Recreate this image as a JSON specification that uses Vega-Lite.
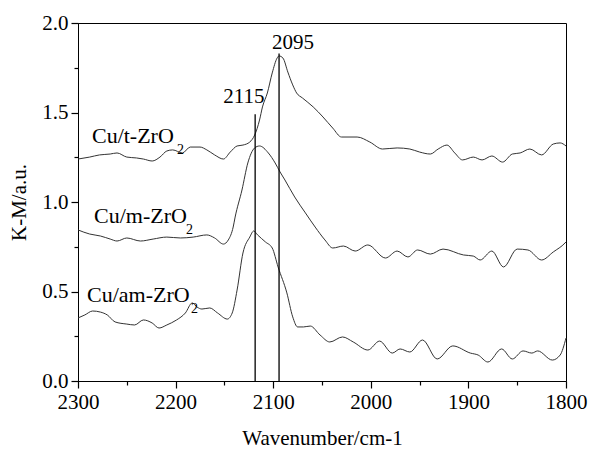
{
  "$schema": "https://vega.github.io/schema/vega-lite/v6.json",
  "autosize": "none",
  "padding": {"left": 78, "top": 23, "right": 24, "bottom": 69},
  "width": 488,
  "height": 358,
  "background": "white",
  "config": {
    "view": {"stroke": "black", "strokeWidth": 1},
    "font": "Liberation Serif",
    "axis": {
      "grid": false,
      "domainColor": "black",
      "domainWidth": 1,
      "tickColor": "black",
      "tickWidth": 1,
      "labelFont": "Liberation Serif",
      "labelFontSize": 21,
      "labelColor": "black",
      "titleFont": "Liberation Serif",
      "titleFontSize": 21,
      "titleFontWeight": "normal",
      "titleColor": "black",
      "labelOverlap": false,
      "labelFlush": false
    }
  },
  "datasets": {
    "spectra": [
      {"series": "Cu/t-ZrO2", "wn": 2300, "km": 1.240},
      {"series": "Cu/t-ZrO2", "wn": 2288, "km": 1.251},
      {"series": "Cu/t-ZrO2", "wn": 2278, "km": 1.263},
      {"series": "Cu/t-ZrO2", "wn": 2267, "km": 1.268},
      {"series": "Cu/t-ZrO2", "wn": 2260, "km": 1.274},
      {"series": "Cu/t-ZrO2", "wn": 2250, "km": 1.251},
      {"series": "Cu/t-ZrO2", "wn": 2240, "km": 1.246},
      {"series": "Cu/t-ZrO2", "wn": 2233, "km": 1.240},
      {"series": "Cu/t-ZrO2", "wn": 2224, "km": 1.229},
      {"series": "Cu/t-ZrO2", "wn": 2216, "km": 1.251},
      {"series": "Cu/t-ZrO2", "wn": 2209, "km": 1.285},
      {"series": "Cu/t-ZrO2", "wn": 2203, "km": 1.291},
      {"series": "Cu/t-ZrO2", "wn": 2193, "km": 1.274},
      {"series": "Cu/t-ZrO2", "wn": 2185, "km": 1.307},
      {"series": "Cu/t-ZrO2", "wn": 2175, "km": 1.307},
      {"series": "Cu/t-ZrO2", "wn": 2168, "km": 1.291},
      {"series": "Cu/t-ZrO2", "wn": 2160, "km": 1.263},
      {"series": "Cu/t-ZrO2", "wn": 2151, "km": 1.240},
      {"series": "Cu/t-ZrO2", "wn": 2144, "km": 1.279},
      {"series": "Cu/t-ZrO2", "wn": 2137, "km": 1.313},
      {"series": "Cu/t-ZrO2", "wn": 2131, "km": 1.318},
      {"series": "Cu/t-ZrO2", "wn": 2124, "km": 1.335},
      {"series": "Cu/t-ZrO2", "wn": 2119, "km": 1.374},
      {"series": "Cu/t-ZrO2", "wn": 2114, "km": 1.458},
      {"series": "Cu/t-ZrO2", "wn": 2111, "km": 1.531},
      {"series": "Cu/t-ZrO2", "wn": 2106, "km": 1.609},
      {"series": "Cu/t-ZrO2", "wn": 2101, "km": 1.721},
      {"series": "Cu/t-ZrO2", "wn": 2096, "km": 1.804},
      {"series": "Cu/t-ZrO2", "wn": 2094, "km": 1.816},
      {"series": "Cu/t-ZrO2", "wn": 2090, "km": 1.804},
      {"series": "Cu/t-ZrO2", "wn": 2085, "km": 1.726},
      {"series": "Cu/t-ZrO2", "wn": 2080, "km": 1.654},
      {"series": "Cu/t-ZrO2", "wn": 2076, "km": 1.609},
      {"series": "Cu/t-ZrO2", "wn": 2070, "km": 1.581},
      {"series": "Cu/t-ZrO2", "wn": 2059, "km": 1.531},
      {"series": "Cu/t-ZrO2", "wn": 2049, "km": 1.475},
      {"series": "Cu/t-ZrO2", "wn": 2039, "km": 1.413},
      {"series": "Cu/t-ZrO2", "wn": 2030, "km": 1.363},
      {"series": "Cu/t-ZrO2", "wn": 2014, "km": 1.363},
      {"series": "Cu/t-ZrO2", "wn": 2001, "km": 1.335},
      {"series": "Cu/t-ZrO2", "wn": 1988, "km": 1.296},
      {"series": "Cu/t-ZrO2", "wn": 1973, "km": 1.302},
      {"series": "Cu/t-ZrO2", "wn": 1960, "km": 1.296},
      {"series": "Cu/t-ZrO2", "wn": 1950, "km": 1.279},
      {"series": "Cu/t-ZrO2", "wn": 1939, "km": 1.268},
      {"series": "Cu/t-ZrO2", "wn": 1931, "km": 1.296},
      {"series": "Cu/t-ZrO2", "wn": 1922, "km": 1.318},
      {"series": "Cu/t-ZrO2", "wn": 1914, "km": 1.274},
      {"series": "Cu/t-ZrO2", "wn": 1906, "km": 1.235},
      {"series": "Cu/t-ZrO2", "wn": 1895, "km": 1.251},
      {"series": "Cu/t-ZrO2", "wn": 1886, "km": 1.235},
      {"series": "Cu/t-ZrO2", "wn": 1876, "km": 1.257},
      {"series": "Cu/t-ZrO2", "wn": 1865, "km": 1.223},
      {"series": "Cu/t-ZrO2", "wn": 1855, "km": 1.268},
      {"series": "Cu/t-ZrO2", "wn": 1847, "km": 1.274},
      {"series": "Cu/t-ZrO2", "wn": 1837, "km": 1.296},
      {"series": "Cu/t-ZrO2", "wn": 1825, "km": 1.263},
      {"series": "Cu/t-ZrO2", "wn": 1813, "km": 1.324},
      {"series": "Cu/t-ZrO2", "wn": 1806, "km": 1.330},
      {"series": "Cu/t-ZrO2", "wn": 1800, "km": 1.313},

      {"series": "Cu/m-ZrO2", "wn": 2300, "km": 0.844},
      {"series": "Cu/m-ZrO2", "wn": 2288, "km": 0.821},
      {"series": "Cu/m-ZrO2", "wn": 2277, "km": 0.810},
      {"series": "Cu/m-ZrO2", "wn": 2267, "km": 0.793},
      {"series": "Cu/m-ZrO2", "wn": 2260, "km": 0.782},
      {"series": "Cu/m-ZrO2", "wn": 2250, "km": 0.799},
      {"series": "Cu/m-ZrO2", "wn": 2236, "km": 0.782},
      {"series": "Cu/m-ZrO2", "wn": 2223, "km": 0.793},
      {"series": "Cu/m-ZrO2", "wn": 2209, "km": 0.804},
      {"series": "Cu/m-ZrO2", "wn": 2195, "km": 0.799},
      {"series": "Cu/m-ZrO2", "wn": 2182, "km": 0.804},
      {"series": "Cu/m-ZrO2", "wn": 2168, "km": 0.816},
      {"series": "Cu/m-ZrO2", "wn": 2160, "km": 0.799},
      {"series": "Cu/m-ZrO2", "wn": 2151, "km": 0.765},
      {"series": "Cu/m-ZrO2", "wn": 2146, "km": 0.788},
      {"series": "Cu/m-ZrO2", "wn": 2141, "km": 0.860},
      {"series": "Cu/m-ZrO2", "wn": 2139, "km": 0.916},
      {"series": "Cu/m-ZrO2", "wn": 2132, "km": 1.067},
      {"series": "Cu/m-ZrO2", "wn": 2126, "km": 1.218},
      {"series": "Cu/m-ZrO2", "wn": 2119, "km": 1.302},
      {"series": "Cu/m-ZrO2", "wn": 2114, "km": 1.313},
      {"series": "Cu/m-ZrO2", "wn": 2105, "km": 1.274},
      {"series": "Cu/m-ZrO2", "wn": 2098, "km": 1.218},
      {"series": "Cu/m-ZrO2", "wn": 2093, "km": 1.168},
      {"series": "Cu/m-ZrO2", "wn": 2088, "km": 1.123},
      {"series": "Cu/m-ZrO2", "wn": 2078, "km": 1.028},
      {"series": "Cu/m-ZrO2", "wn": 2067, "km": 0.939},
      {"series": "Cu/m-ZrO2", "wn": 2057, "km": 0.860},
      {"series": "Cu/m-ZrO2", "wn": 2047, "km": 0.788},
      {"series": "Cu/m-ZrO2", "wn": 2039, "km": 0.743},
      {"series": "Cu/m-ZrO2", "wn": 2028, "km": 0.754},
      {"series": "Cu/m-ZrO2", "wn": 2016, "km": 0.726},
      {"series": "Cu/m-ZrO2", "wn": 2003, "km": 0.760},
      {"series": "Cu/m-ZrO2", "wn": 1985, "km": 0.687},
      {"series": "Cu/m-ZrO2", "wn": 1973, "km": 0.726},
      {"series": "Cu/m-ZrO2", "wn": 1962, "km": 0.693},
      {"series": "Cu/m-ZrO2", "wn": 1952, "km": 0.732},
      {"series": "Cu/m-ZrO2", "wn": 1939, "km": 0.709},
      {"series": "Cu/m-ZrO2", "wn": 1926, "km": 0.737},
      {"series": "Cu/m-ZrO2", "wn": 1905, "km": 0.704},
      {"series": "Cu/m-ZrO2", "wn": 1895, "km": 0.698},
      {"series": "Cu/m-ZrO2", "wn": 1888, "km": 0.676},
      {"series": "Cu/m-ZrO2", "wn": 1876, "km": 0.726},
      {"series": "Cu/m-ZrO2", "wn": 1864, "km": 0.637},
      {"series": "Cu/m-ZrO2", "wn": 1850, "km": 0.737},
      {"series": "Cu/m-ZrO2", "wn": 1839, "km": 0.732},
      {"series": "Cu/m-ZrO2", "wn": 1825, "km": 0.676},
      {"series": "Cu/m-ZrO2", "wn": 1813, "km": 0.721},
      {"series": "Cu/m-ZrO2", "wn": 1801, "km": 0.771},
      {"series": "Cu/m-ZrO2", "wn": 1800, "km": 0.777},

      {"series": "Cu/am-ZrO2", "wn": 2300, "km": 0.352},
      {"series": "Cu/am-ZrO2", "wn": 2293, "km": 0.369},
      {"series": "Cu/am-ZrO2", "wn": 2285, "km": 0.391},
      {"series": "Cu/am-ZrO2", "wn": 2277, "km": 0.385},
      {"series": "Cu/am-ZrO2", "wn": 2270, "km": 0.369},
      {"series": "Cu/am-ZrO2", "wn": 2262, "km": 0.330},
      {"series": "Cu/am-ZrO2", "wn": 2250, "km": 0.318},
      {"series": "Cu/am-ZrO2", "wn": 2242, "km": 0.313},
      {"series": "Cu/am-ZrO2", "wn": 2233, "km": 0.341},
      {"series": "Cu/am-ZrO2", "wn": 2224, "km": 0.324},
      {"series": "Cu/am-ZrO2", "wn": 2217, "km": 0.296},
      {"series": "Cu/am-ZrO2", "wn": 2209, "km": 0.313},
      {"series": "Cu/am-ZrO2", "wn": 2199, "km": 0.341},
      {"series": "Cu/am-ZrO2", "wn": 2190, "km": 0.380},
      {"series": "Cu/am-ZrO2", "wn": 2183, "km": 0.436},
      {"series": "Cu/am-ZrO2", "wn": 2178, "km": 0.413},
      {"series": "Cu/am-ZrO2", "wn": 2173, "km": 0.402},
      {"series": "Cu/am-ZrO2", "wn": 2165, "km": 0.408},
      {"series": "Cu/am-ZrO2", "wn": 2157, "km": 0.380},
      {"series": "Cu/am-ZrO2", "wn": 2147, "km": 0.346},
      {"series": "Cu/am-ZrO2", "wn": 2142, "km": 0.380},
      {"series": "Cu/am-ZrO2", "wn": 2137, "km": 0.508},
      {"series": "Cu/am-ZrO2", "wn": 2131, "km": 0.715},
      {"series": "Cu/am-ZrO2", "wn": 2124, "km": 0.804},
      {"series": "Cu/am-ZrO2", "wn": 2120, "km": 0.838},
      {"series": "Cu/am-ZrO2", "wn": 2116, "km": 0.816},
      {"series": "Cu/am-ZrO2", "wn": 2108, "km": 0.777},
      {"series": "Cu/am-ZrO2", "wn": 2101, "km": 0.743},
      {"series": "Cu/am-ZrO2", "wn": 2095, "km": 0.637},
      {"series": "Cu/am-ZrO2", "wn": 2086, "km": 0.492},
      {"series": "Cu/am-ZrO2", "wn": 2080, "km": 0.358},
      {"series": "Cu/am-ZrO2", "wn": 2075, "km": 0.302},
      {"series": "Cu/am-ZrO2", "wn": 2069, "km": 0.302},
      {"series": "Cu/am-ZrO2", "wn": 2062, "km": 0.307},
      {"series": "Cu/am-ZrO2", "wn": 2052, "km": 0.257},
      {"series": "Cu/am-ZrO2", "wn": 2042, "km": 0.218},
      {"series": "Cu/am-ZrO2", "wn": 2029, "km": 0.246},
      {"series": "Cu/am-ZrO2", "wn": 2018, "km": 0.218},
      {"series": "Cu/am-ZrO2", "wn": 2003, "km": 0.173},
      {"series": "Cu/am-ZrO2", "wn": 1991, "km": 0.223},
      {"series": "Cu/am-ZrO2", "wn": 1978, "km": 0.156},
      {"series": "Cu/am-ZrO2", "wn": 1970, "km": 0.179},
      {"series": "Cu/am-ZrO2", "wn": 1960, "km": 0.162},
      {"series": "Cu/am-ZrO2", "wn": 1947, "km": 0.229},
      {"series": "Cu/am-ZrO2", "wn": 1932, "km": 0.123},
      {"series": "Cu/am-ZrO2", "wn": 1916, "km": 0.196},
      {"series": "Cu/am-ZrO2", "wn": 1898, "km": 0.156},
      {"series": "Cu/am-ZrO2", "wn": 1890, "km": 0.145},
      {"series": "Cu/am-ZrO2", "wn": 1880, "km": 0.106},
      {"series": "Cu/am-ZrO2", "wn": 1866, "km": 0.179},
      {"series": "Cu/am-ZrO2", "wn": 1855, "km": 0.123},
      {"series": "Cu/am-ZrO2", "wn": 1844, "km": 0.168},
      {"series": "Cu/am-ZrO2", "wn": 1835, "km": 0.156},
      {"series": "Cu/am-ZrO2", "wn": 1829, "km": 0.168},
      {"series": "Cu/am-ZrO2", "wn": 1814, "km": 0.117},
      {"series": "Cu/am-ZrO2", "wn": 1806, "km": 0.145},
      {"series": "Cu/am-ZrO2", "wn": 1800, "km": 0.240}
    ],
    "markers": [
      {"label": "2115", "wn": 2118.5, "bottom": 0, "top": 1.49, "labelWn": 2130, "labelKm": 1.553},
      {"label": "2095", "wn": 2094, "bottom": 0, "top": 1.83, "labelWn": 2079.7, "labelKm": 1.855}
    ],
    "names": [
      {"name": "Cu/t-ZrO", "sub": "2", "wn": 2285.7, "km": 1.330, "subWn": 2198.6},
      {"name": "Cu/m-ZrO", "sub": "2", "wn": 2283.6, "km": 0.883, "subWn": 2189.3},
      {"name": "Cu/am-ZrO", "sub": "2", "wn": 2290.8, "km": 0.441, "subWn": 2184.2}
    ]
  },
  "resolve": {"axis": {"x": "independent", "y": "independent"}},
  "layer": [
    {
      "data": {"name": "spectra"},
      "mark": {"type": "line", "color": "#333333", "strokeWidth": 1, "interpolate": "monotone"},
      "encoding": {
        "x": {
          "field": "wn",
          "type": "quantitative",
          "title": "Wavenumber/cm-1",
          "scale": {"domain": [1800, 2300], "reverse": true, "nice": false, "zero": false},
          "axis": {
            "orient": "bottom",
            "values": [2300, 2200, 2100, 2000, 1900, 1800],
            "format": "d",
            "ticks": false,
            "labelPadding": 10,
            "titlePadding": 15
          }
        },
        "y": {
          "field": "km",
          "type": "quantitative",
          "title": "K-M/a.u.",
          "scale": {"domain": [0, 2], "nice": false, "zero": false},
          "axis": {
            "orient": "left",
            "values": [0, 0.5, 1, 1.5, 2],
            "format": ".1f",
            "ticks": false,
            "labelPadding": 10,
            "titlePadding": 12
          }
        },
        "detail": {"field": "series", "type": "nominal"}
      }
    },
    {
      "data": {"name": "markers"},
      "mark": {"type": "rule", "color": "black", "strokeWidth": 1.3},
      "encoding": {
        "x": {
          "field": "wn",
          "type": "quantitative",
          "axis": {"orient": "bottom", "values": [2300, 2200, 2100, 2000, 1900, 1800], "labels": false, "tickSize": 7, "tickColor": "black", "tickWidth": 1.2, "domain": false, "title": null}
        },
        "y": {
          "field": "bottom",
          "type": "quantitative",
          "axis": {"orient": "left", "values": [0, 0.5, 1, 1.5, 2], "labels": false, "tickSize": 7, "tickColor": "black", "tickWidth": 1.2, "domain": false, "title": null}
        },
        "y2": {"field": "top"}
      }
    },
    {
      "data": {"name": "markers"},
      "mark": {"type": "text", "font": "Liberation Serif", "fontSize": 21, "color": "black", "align": "center", "baseline": "alphabetic"},
      "encoding": {
        "x": {
          "field": "labelWn",
          "type": "quantitative",
          "axis": {"orient": "bottom", "values": [2250, 2150, 2050, 1950, 1850], "labels": false, "tickSize": 4, "tickColor": "black", "tickWidth": 1.2, "domain": false, "title": null}
        },
        "y": {
          "field": "labelKm",
          "type": "quantitative",
          "axis": {"orient": "left", "values": [0.25, 0.75, 1.25, 1.75], "labels": false, "tickSize": 4, "tickColor": "black", "tickWidth": 1.2, "domain": false, "title": null}
        },
        "text": {"field": "label", "type": "nominal"}
      }
    },
    {
      "data": {"name": "names"},
      "mark": {"type": "text", "font": "Liberation Serif", "fontSize": 22, "color": "black", "align": "left", "baseline": "alphabetic"},
      "encoding": {
        "x": {"field": "wn", "type": "quantitative", "axis": null},
        "y": {"field": "km", "type": "quantitative", "axis": null},
        "text": {"field": "name", "type": "nominal"}
      }
    },
    {
      "data": {"name": "names"},
      "mark": {"type": "text", "font": "Liberation Serif", "fontSize": 14, "color": "black", "align": "left", "baseline": "alphabetic", "dy": 11},
      "encoding": {
        "x": {"field": "subWn", "type": "quantitative", "axis": null},
        "y": {"field": "km", "type": "quantitative", "axis": null},
        "text": {"field": "sub", "type": "nominal"}
      }
    }
  ]
}
